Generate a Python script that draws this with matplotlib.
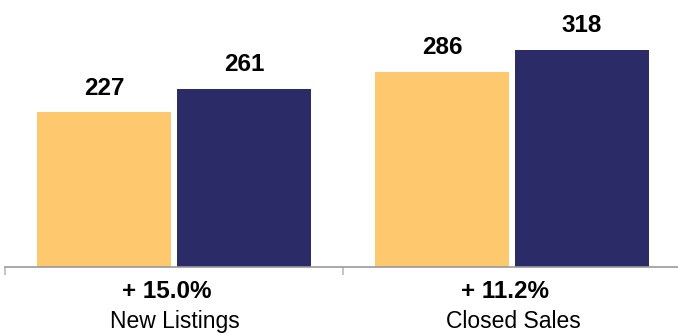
import numpy as np
from matplotlib import pyplot as plt

plt.rcParams['font.family'] = ['Liberation Sans', 'DejaVu Sans']

categories = ["New Listings", "Closed Sales"]
changes = ["+ 15.0%", "+ 11.2%"]
prior_year = [227, 286]
current_year = [261, 318]

yellow = "#fec86f"
navy = "#2b2b68"

if __name__ == '__main__':
    fig = plt.figure(figsize=(6.78, 3.33), dpi=100)
    ax = fig.add_axes([5 / 678, 66 / 333, 676 / 678, 267 / 333])

    x = np.arange(len(categories))
    width = 0.394
    offset = 0.207
    b1 = ax.bar(x - offset, prior_year, width, color=yellow)
    b2 = ax.bar(x + offset, current_year, width, color=navy)

    for bars in (b1, b2):
        for bar in bars:
            ax.annotate(f"{int(bar.get_height())}",
                        (bar.get_x() + bar.get_width() / 2, bar.get_height()),
                        xytext=(0, 12.5), textcoords="offset points",
                        ha="center", va="baseline", fontsize=17.5, fontweight="bold")

    ax.set_xlim(-0.5, 1.5)
    ax.set_ylim(0, 391)

    for s in ["top", "right", "left"]:
        ax.spines[s].set_visible(False)
    ax.spines["bottom"].set_color("#999999")
    ax.spines["bottom"].set_linewidth(1.2)

    ax.set_yticks([])
    ax.set_xticks([-0.5, 0.5, 1.5])
    ax.set_xticklabels([])
    ax.tick_params(axis="x", length=6, width=1.2, color="#bbbbbb")

    for i, (c, lab) in enumerate(zip(changes, categories)):
        ax.text(i - 0.022, -46, c, ha="center", va="baseline", fontsize=17.5, fontweight="bold")
        ax.text(i + 0.003, -89, lab, ha="center", va="baseline", fontsize=16.5)

    fig.savefig("out.png", dpi=100)
